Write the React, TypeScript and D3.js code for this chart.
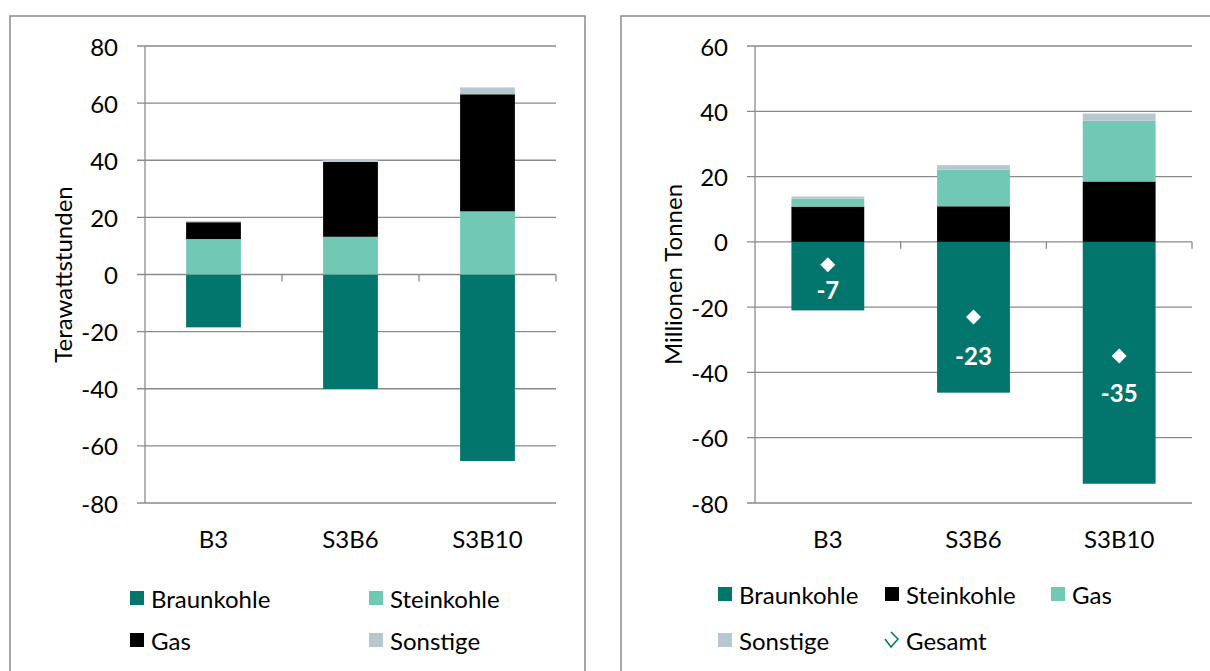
import React from 'react';
import * as d3 from 'd3';

// Szenarien
const categories = ['B3', 'S3B6', 'S3B10'];

// Linkes Diagramm: Stromerzeugung, Terawattstunden
const twhKeys = ['Braunkohle', 'Steinkohle', 'Gas', 'Sonstige'];
const braunkohleTWh = [-18.5, -40.1, -65.3];
const steinkohleTWh = [12.4, 13.2, 22.1];
const gasTWh = [5.9, 26.2, 41.0];
const sonstigeTWh = [0.4, 0.7, 2.4];
const twhTicks = [-80, -60, -40, -20, 0, 20, 40, 60, 80];

// Rechtes Diagramm: Emissionen, Millionen Tonnen
const mtKeys = ['Braunkohle', 'Steinkohle', 'Gas', 'Sonstige'];
const braunkohleMt = [-21.0, -46.2, -74.1];
const steinkohleMt = [10.8, 10.9, 18.5];
const gasMt = [2.4, 11.2, 18.6];
const sonstigeMt = [0.7, 1.4, 2.2];
const gesamtMt = [-7, -23, -35];
const mtTicks = [-80, -60, -40, -20, 0, 20, 40, 60];

const FONT = 'Lato, "Noto Sans", sans-serif';
const FS = 24;
const GRID = '#8a8a8a';

const buildRows = (keys: string[], series: number[][]) =>
  categories.map((cat, i) => {
    const row: any = { cat };
    keys.forEach((k, j) => (row[k] = series[j][i]));
    return row;
  });

type PanelProps = {
  x0: number;
  x1: number;
  top: number;
  bottom: number;
  domain: [number, number];
  ticks: number[];
  keys: string[];
  rows: any[];
  colors: Record<string, string>;
  padding: number;
  title: string;
  titleX: number;
  children?: (x: d3.ScaleBand<string>, y: d3.ScaleLinear<number, number>) => React.ReactNode;
};

const Panel = ({ x0, x1, top, bottom, domain, ticks, keys, rows, colors, padding, title, titleX, children }: PanelProps) => {
  const x = d3.scaleBand<string>().domain(categories).range([x0, x1]).paddingInner(padding).paddingOuter(padding / 2);
  const xTicks = d3.scaleBand<string>().domain(categories).range([x0, x1]);
  const y = d3.scaleLinear().domain(domain).range([bottom, top]);
  const stacked = d3.stack<any>().keys(keys).offset(d3.stackOffsetDiverging)(rows);

  return (
    <g>
      {ticks.map((t) => (
        <line key={t} x1={x0 - 8} x2={x1} y1={y(t)} y2={y(t)} stroke={GRID} strokeWidth={1.3} />
      ))}
      <line x1={x0} x2={x0} y1={top} y2={bottom} stroke={GRID} strokeWidth={1.3} />
      {categories.map((c) => (
        <line key={c} x1={xTicks(c)! + xTicks.bandwidth()} x2={xTicks(c)! + xTicks.bandwidth()}
          y1={y(0)} y2={y(0) + 7} stroke={GRID} strokeWidth={1.3} />
      ))}
      {ticks.map((t) => (
        <text key={t} x={x0 - 27} y={y(t)} textAnchor="end" dominantBaseline="central"
          fontFamily={FONT} fontSize={FS} fill="#000">{t}</text>
      ))}
      {categories.map((c) => (
        <text key={c} x={xTicks(c)! + xTicks.bandwidth() / 2} y={bottom + 35} textAnchor="middle"
          dominantBaseline="central" fontFamily={FONT} fontSize={FS} fill="#000">{c}</text>
      ))}
      <text transform={`translate(${titleX},${(top + bottom) / 2}) rotate(-90)`} textAnchor="middle"
        dominantBaseline="central" fontFamily={FONT} fontSize={FS} fill="#000">{title}</text>
      {stacked.map((layer) =>
        layer.map((d, i) => (
          <rect key={layer.key + i} x={x(categories[i])} width={x.bandwidth()}
            y={y(Math.max(d[0], d[1]))} height={Math.abs(y(d[0]) - y(d[1]))}
            fill={colors[layer.key]} />
        ))
      )}
      {children && children(x, y)}
    </g>
  );
};

const LegendItem = ({ x, y, color, label }: { x: number; y: number; color: string; label: string }) => (
  <g>
    <rect x={x} y={y - 7} width={14} height={14} fill={color} />
    <text x={x + 21} y={y} dominantBaseline="central" fontFamily={FONT} fontSize={FS} fill="#000">{label}</text>
  </g>
);

const App = () => {
  const teal = '#02756c';
  const light = '#71c9b5';
  const grey = '#b7c7d0';

  const leftColors = { Braunkohle: teal, Steinkohle: light, Gas: '#000000', Sonstige: grey };
  const rightColors = { Braunkohle: teal, Steinkohle: '#000000', Gas: light, Sonstige: grey };

  const leftRows = buildRows(twhKeys, [braunkohleTWh, steinkohleTWh, gasTWh, sonstigeTWh]);
  const rightRows = buildRows(mtKeys, [braunkohleMt, steinkohleMt, gasMt, sonstigeMt]);
  const labelDy = [25, 39, 36];
  const diamond = d3.symbol().type(d3.symbolSquare).size(112)();

  return (
    <svg width={1210} height={671} style={{ position: 'absolute', left: 0, top: 0, background: '#fff' }}>
      <rect x={10} y={16} width={575} height={700} fill="none" stroke={GRID} strokeWidth={1.5} />
      <rect x={621} y={16} width={700} height={700} fill="none" stroke={GRID} strokeWidth={1.5} />

      <Panel x0={145} x1={556} top={46} bottom={503} domain={[-80, 80]} ticks={twhTicks}
        keys={twhKeys} rows={leftRows} colors={leftColors} padding={0.6}
        title="Terawattstunden" titleX={62} />

      <Panel x0={755} x1={1192} top={46} bottom={503} domain={[-80, 60]} ticks={mtTicks}
        keys={mtKeys} rows={rightRows} colors={rightColors} padding={0.5}
        title="Millionen Tonnen" titleX={672}>
        {(x, y) =>
          categories.map((c, i) => {
            const cx = x(c)! + x.bandwidth() / 2;
            return (
              <g key={c}>
                <path d={diamond!} transform={`translate(${cx},${y(gesamtMt[i])}) rotate(45)`} fill="#fff" />
                <text x={cx} y={y(gesamtMt[i]) + labelDy[i]} textAnchor="middle" dominantBaseline="central"
                  fontFamily={FONT} fontSize={FS} fontWeight="bold" fill="#fff">{gesamtMt[i]}</text>
              </g>
            );
          })
        }
      </Panel>

      <LegendItem x={130} y={598} color={teal} label="Braunkohle" />
      <LegendItem x={369} y={598} color={light} label="Steinkohle" />
      <LegendItem x={130} y={640} color="#000000" label="Gas" />
      <LegendItem x={369} y={640} color={grey} label="Sonstige" />

      <LegendItem x={718} y={594} color={teal} label="Braunkohle" />
      <LegendItem x={885} y={594} color="#000000" label="Steinkohle" />
      <LegendItem x={1051} y={594} color={light} label="Gas" />
      <LegendItem x={718} y={640} color={grey} label="Sonstige" />
      <g>
        <polyline points="885,639 891,647 898,639 891,632" fill="none" stroke={teal} strokeWidth={1.5} />
        <text x={906} y={640} dominantBaseline="central" fontFamily={FONT} fontSize={FS} fill="#000">Gesamt</text>
      </g>
    </svg>
  );
};

export default App;
